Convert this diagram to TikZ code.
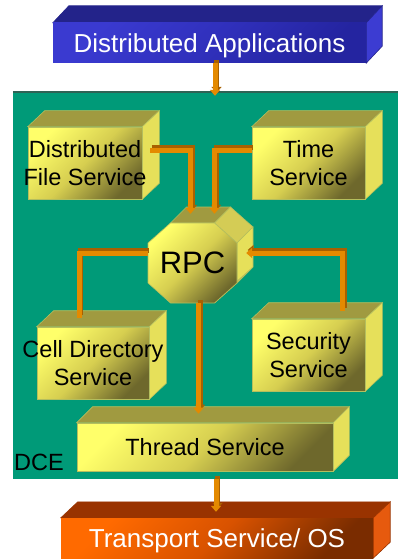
\documentclass[tikz,border=0pt]{standalone}
\usepackage{fontspec}
\setmainfont{Liberation Sans}
\usetikzlibrary{calc,arrows.meta}

\definecolor{panelgreen}{HTML}{009A78}
\definecolor{paneledge}{HTML}{2E6355}
\definecolor{ylight}{HTML}{FFFF6A}
\definecolor{ymid}{HTML}{D6CE50}
\definecolor{ydark}{HTML}{6E682C}
\definecolor{ytop}{HTML}{A09A40}
\definecolor{yside}{HTML}{E6E05A}
\definecolor{yside2}{HTML}{D4CC55}
\definecolor{yedge}{HTML}{B4BE5E}
\definecolor{blight}{HTML}{3A3AD0}
\definecolor{bmid}{HTML}{3030BC}
\definecolor{bdark}{HTML}{2424A0}
\definecolor{btop}{HTML}{23238A}
\definecolor{bside}{HTML}{3C3CD2}
\definecolor{olight}{HTML}{FF6A00}
\definecolor{omid}{HTML}{D85200}
\definecolor{odark}{HTML}{7A2C00}
\definecolor{otop}{HTML}{993300}
\definecolor{oside}{HTML}{E65A0E}
\definecolor{pipeorange}{HTML}{E48A00}
\definecolor{pipedark}{HTML}{A86000}

\pgfdeclarelayer{panellayer}
\pgfdeclarelayer{facelayer}
\pgfsetlayers{panellayer,facelayer,main}

\newcommand\svcfont{\fontsize{23.5}{28.5}\selectfont}
\newcommand\bigfont{\fontsize{26}{30}\selectfont}
\newcommand\ztxt[1]{\makebox[0pt][c]{#1}}

% side and top faces of an extruded front node, kept under the lettering:
% node, top colour, side colour, depth offset, edge colour
\newcommand\cubefaces[5]{%
  \begin{pgfonlayer}{facelayer}
  \filldraw[fill=#2, draw=#5, line width=0.6pt] (#1.north west) -- ++(#4) -- ($(#1.north east)+(#4)$) -- (#1.north east) -- cycle;
  \filldraw[fill=#3, draw=#5, line width=0.6pt] (#1.north east) -- ++(#4) -- ($(#1.south east)+(#4)$) -- (#1.south east) -- cycle;
  \end{pgfonlayer}
}

\tikzset{
  yfront/.style={rectangle, inner sep=0pt, draw=yedge, line width=0.6pt,
    top color=ylight, bottom color=ydark, middle color=ymid, shading angle=45,
    font=\svcfont, align=center, text=black},
  bfront/.style={rectangle, inner sep=0pt, top color=blight, bottom color=bdark,
    middle color=bmid, shading angle=45, font=\bigfont, text=white, text depth=0pt},
  ofront/.style={rectangle, inner sep=0pt, top color=olight, bottom color=odark,
    middle color=omid, shading angle=45, font=\bigfont, text=white, text depth=0pt},
  pipe/.style={draw=pipeorange, line width=5pt,
    preaction={draw=pipedark, line width=5pt, transform canvas={xshift=1.5pt,yshift=3pt}}},
  pipetip/.style={-{Triangle[width=10pt,length=6pt]}}
}

\begin{document}
\begin{tikzpicture}[x=1pt,y=-1pt]
\useasboundingbox (0,0) rectangle (398,559);

% DCE panel
\begin{pgfonlayer}{panellayer}
\node[rectangle, inner sep=0pt, fill=panelgreen, minimum width=385pt, minimum height=387pt]
  (panel) at (205.5,285.5) {};
\draw[paneledge, line width=1.5pt] (panel.north west) -- (panel.north east);
\end{pgfonlayer}
\node[font=\svcfont, inner sep=0pt] (dce) at (39,462) {DCE};

% Distributed Applications
\node[bfront, minimum width=313pt, minimum height=40pt] (da) at (209.5,43) {Distributed Applications};
\cubefaces{da}{btop}{bside}{16,-17}{btop}

% Transport Service / OS
\node[ofront, minimum width=312pt, minimum height=40pt] (tr) at (217,538) {Transport Service/ OS};
\cubefaces{tr}{otop}{oside}{17,-16}{otop}

% services
\node[yfront, minimum width=114pt, minimum height=72pt] (dfs) at (85,163)
  {\ztxt{Distributed}\\\ztxt{File Service}};
\cubefaces{dfs}{ytop}{yside}{17,-16}{yedge}

\node[yfront, minimum width=113pt, minimum height=72pt] (time) at (308.5,163)
  {\ztxt{Time}\\\ztxt{Service}};
\cubefaces{time}{ytop}{yside}{17,-16}{yedge}

\node[yfront, minimum width=112pt, minimum height=72pt] (cds) at (93,363)
  {\ztxt{Cell Directory}\\\ztxt{Service}};
\cubefaces{cds}{ytop}{yside}{17,-16}{yedge}

\node[yfront, minimum width=113pt, minimum height=72pt] (sec) at (308.5,355)
  {\ztxt{Security}\\\ztxt{Service}};
\cubefaces{sec}{ytop}{yside}{17,-16}{yedge}

\node[yfront, minimum width=256pt, minimum height=48pt] (thr) at (205,447) {Thread Service};
\cubefaces{thr}{ytop}{yside}{16,-16}{yedge}

% RPC octagon
\filldraw[fill=ytop, draw=yedge, line width=0.6pt]
  (170.5,223) -- (214.5,223) -- (230.5,207) -- (186.5,207) -- cycle;
\filldraw[fill=yside2, draw=yedge, line width=0.6pt]
  (214.5,223) -- (237,243) -- (253,227) -- (230.5,207) -- cycle;
\filldraw[fill=yside, draw=yedge, line width=0.6pt]
  (237,243) -- (237,283) -- (253,267) -- (253,227) -- cycle;
\filldraw[fill=yside2, draw=yedge, line width=0.6pt]
  (237,283) -- (214.5,303) -- (230.5,287) -- (253,267) -- cycle;
\path[top color=ylight, bottom color=ydark, middle color=ymid, shading angle=45,
      draw=yedge, line width=0.6pt]
  (170.5,223) -- (214.5,223) -- (237,243) -- (237,283) -- (214.5,303)
  -- (170.5,303) -- (148,283) -- (148,243) -- cycle;
\node[rectangle, inner sep=0pt, minimum width=89pt, minimum height=80pt,
      font=\fontsize{31}{36}\selectfont] (rpc) at (192.5,263) {RPC};

% connectors
\draw[pipe,pipetip] ($(dfs.east)+(8,-13)$) -| ($(rpc.north)+(-2,-9)$);
\draw[pipe,pipetip] ($(time.west)+(0,-13)$) -| ($(rpc.north)+(22,-9)$);
\draw[pipe] ($(rpc.west)+(0,-10)$) -| ($(cds.north)+(-14,-9)$);
\draw[pipe,pipetip] ($(sec.north)+(34,-8)$) |- ($(rpc.east)+(9,-10)$);
\draw[pipe,pipetip] ($(rpc.south)+(6,0)$) -- ($(thr.north)+(-6.5,-9)$);
\draw[pipe,pipetip] ($(da.south)+(5.5,0)$) -- ($(panel.north)+(9.5,4)$);
\draw[pipe,pipetip] ($(panel.south)+(10.5,0)$) -- ($(tr.north)+(-1,-6)$);
\end{tikzpicture}
\end{document}
